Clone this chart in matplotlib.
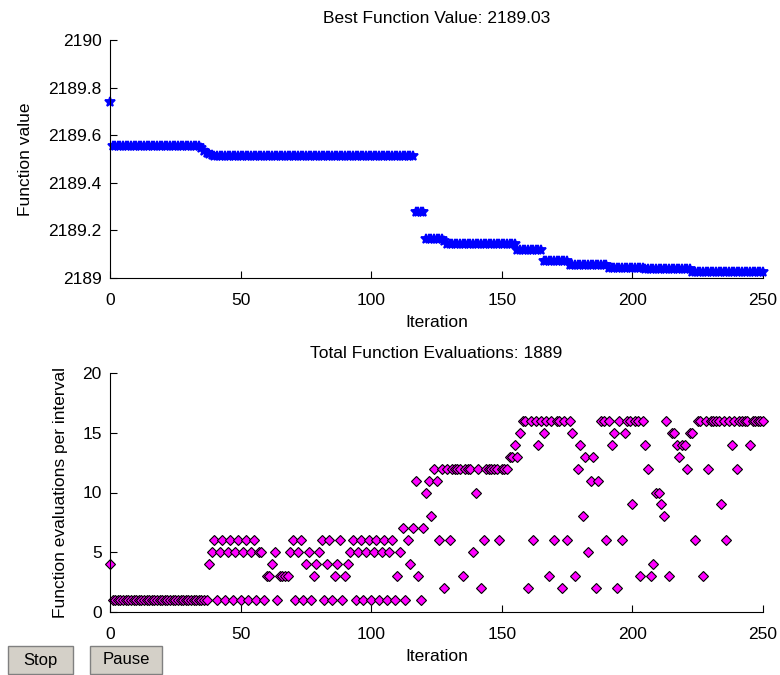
import numpy as np
import matplotlib
matplotlib.use("Agg")
import matplotlib.pyplot as plt
from matplotlib.patches import Rectangle
from matplotlib.ticker import FuncFormatter

plt.rcParams['font.family'] = ['Liberation Sans', 'DejaVu Sans']
plt.rcParams['font.size'] = 12.5

W, H = 780, 675

# Best function value per iteration, kept as runs of equal values
best_levels = [2189.74, 2189.553, 2189.545, 2189.535, 2189.525, 2189.52, 2189.517,
               2189.514, 2189.276, 2189.165, 2189.155, 2189.143, 2189.118, 2189.072,
               2189.055, 2189.043, 2189.038, 2189.027]
best_counts = [1, 34, 1, 1, 1, 1, 1, 77, 4, 7, 1, 27, 10, 10, 15, 14, 18, 28]

# Function evaluations per iteration (0..250)
evals = [4, 1, 1, 1, 1, 1, 1, 1, 1, 1, 1, 1, 1, 1, 1, 1, 1, 1, 1, 1,
         1, 1, 1, 1, 1, 1, 1, 1, 1, 1, 1, 1, 1, 1, 1, 1, 1, 1, 4, 5,
         6, 1, 5, 6, 1, 5, 6, 1, 5, 6, 1, 5, 6, 1, 5, 6, 1, 5, 5, 1,
         3, 3, 4, 5, 1, 3, 3, 3, 3, 5, 6, 1, 5, 6, 1, 4, 5, 1, 3, 4,
         5, 6, 1, 4, 6, 1, 3, 4, 6, 1, 3, 4, 5, 6, 1, 5, 6, 1, 5, 6,
         1, 5, 6, 1, 5, 6, 1, 5, 6, 1, 3, 5, 7, 1, 6, 4, 7, 11, 3, 1,
         7, 10, 11, 8, 12, 11, 6, 12, 2, 12, 6, 12, 12, 12, 12, 3, 12, 12, 12, 5,
         10, 12, 2, 6, 12, 12, 12, 12, 12, 6, 12, 12, 12, 13, 13, 14, 13, 15, 16, 16,
         2, 16, 6, 16, 14, 16, 15, 16, 3, 16, 6, 16, 16, 2, 16, 6, 16, 15, 3, 12,
         14, 8, 13, 5, 11, 13, 2, 11, 16, 16, 6, 16, 14, 15, 2, 16, 6, 15, 16, 16,
         9, 16, 16, 3, 16, 14, 12, 3, 4, 10, 10, 9, 8, 16, 3, 15, 15, 14, 13, 14,
         14, 12, 15, 15, 6, 16, 16, 3, 16, 12, 16, 16, 16, 16, 9, 16, 6, 16, 14, 16,
         12, 16, 16, 16, 16, 14, 16, 16, 16, 16, 16]

best = np.repeat(best_levels, best_counts)
iters = np.arange(len(best))
eval_iters = np.arange(len(evals))
total_evals = 1889


def style_axes(ax):
    ax.spines['top'].set_visible(False)
    ax.spines['right'].set_visible(False)
    ax.tick_params(direction='in', length=5, width=0.8)
    ax.tick_params(axis='x', pad=11)
    ax.tick_params(axis='y', pad=6)
    ax.set_xlim(0, 250)
    ax.set_xticks([0, 50, 100, 150, 200, 250])
    ax.set_xlabel('Iteration', labelpad=5)


def px_axes(left, top, right, bottom):
    return fig.add_axes([left / W, 1 - bottom / H, (right - left) / W, (bottom - top) / H])


def button(x, y, w, h, label):
    # plain grey push button at the lower left corner
    fig.patches.append(Rectangle((x / W, 1 - (y + h) / H), w / W, h / H,
                                 transform=fig.transFigure, facecolor='#d4d0c8',
                                 edgecolor='#808080', linewidth=1.0))
    fig.text((x + w / 2) / W, 1 - (y + h / 2) / H, label, ha='center', va='center',
             fontsize=12)


fig = plt.figure(figsize=(W / 100, H / 100), dpi=100)

# top: best function value
ax1 = px_axes(110, 40, 763, 278)
ax1.plot(iters, best, linestyle='none', marker='*', color='#0000ff', ms=7,
         mew=1.3, clip_on=False)
style_axes(ax1)
ax1.set_ylim(2189, 2190)
ax1.set_yticks([2189, 2189.2, 2189.4, 2189.6, 2189.8, 2190])
ax1.yaxis.set_major_formatter(FuncFormatter(lambda v, p: '%g' % round(v, 1)))
ax1.set_ylabel('Function value', labelpad=11)
ax1.set_title('Best Function Value: %.2f' % best[-1], fontsize=12.5, pad=12)

# bottom: evaluations per iteration
ax2 = px_axes(110, 373, 763, 612)
ax2.plot(eval_iters, evals, linestyle='none', marker='D', markerfacecolor='#ff00ff',
         markeredgecolor='black', ms=5, mew=0.8, clip_on=False)
style_axes(ax2)
ax2.set_ylim(0, 20)
ax2.set_yticks([0, 5, 10, 15, 20])
ax2.set_ylabel('Function evaluations per interval', labelpad=10)
ax2.set_title('Total Function Evaluations: %d' % total_evals, fontsize=12.5, pad=11)

button(8, 646, 65, 28, 'Stop')
button(90, 646, 72, 28, 'Pause')

fig.savefig('out.png', dpi=100, facecolor='white')
